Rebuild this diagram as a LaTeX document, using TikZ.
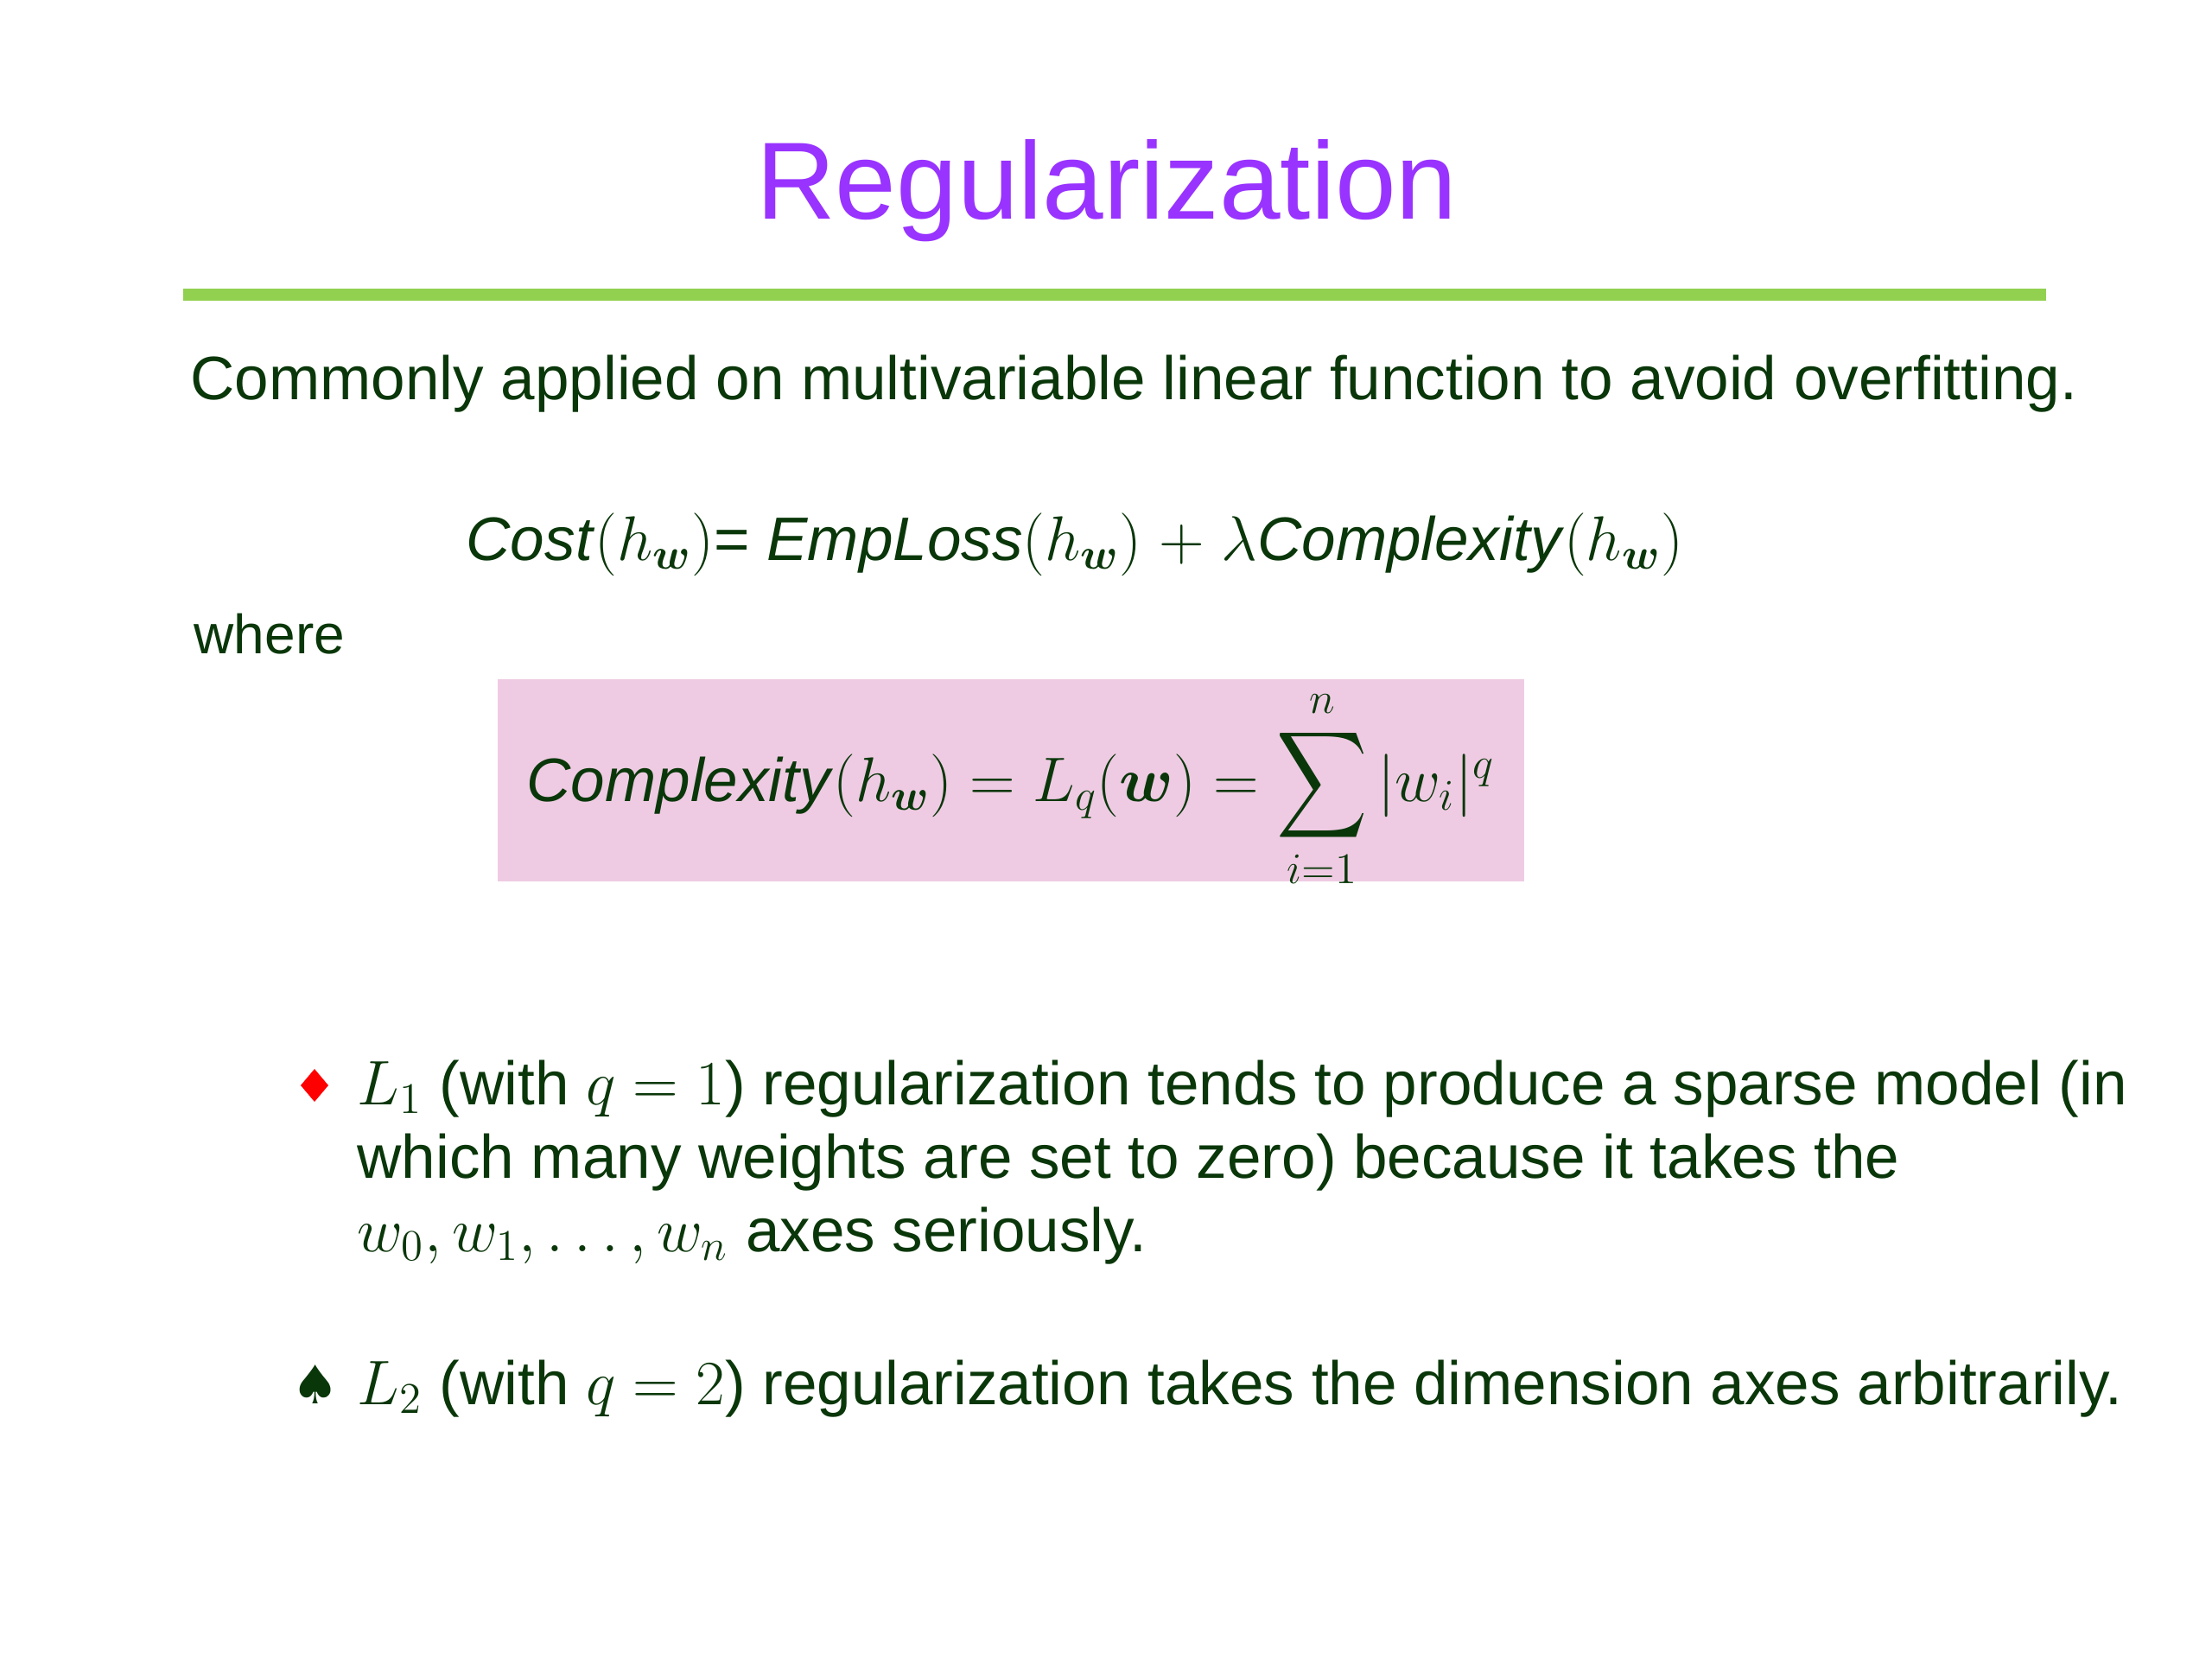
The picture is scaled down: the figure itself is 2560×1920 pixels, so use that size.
\documentclass[tikz,border=0pt]{standalone}
\usepackage{amsmath}
\usepackage[no-math]{fontspec}
\setmainfont{Liberation Sans}
\newfontfamily\symfont{DejaVu Sans}
\definecolor{titlepurple}{RGB}{153,51,255}
\definecolor{rulegreen}{RGB}{146,208,80}
\definecolor{txtgreen}{RGB}{10,55,10}
\definecolor{boxpink}{RGB}{239,203,227}
\definecolor{bulletred}{RGB}{255,0,0}
\newcommand{\bigsum}{\mathop{\vcenter{\hbox{\scalebox{1}[1.18]{$\displaystyle\sum$}}}}\limits}
\tikzset{
  titletext/.style={inner sep=0pt, text=titlepurple, font=\fontsize{36.1}{40}\selectfont},
  bodytext/.style={inner sep=0pt, text=txtgreen, font=\fontsize{20.2}{24.2}\selectfont},
  smalltext/.style={inner sep=0pt, text=txtgreen, font=\fontsize{18.2}{22}\selectfont},
  pinkbox/.style={fill=boxpink, draw=none},
  greenrule/.style={draw=rulegreen, line width=14*0.2845pt},
}
\begin{document}
\begin{tikzpicture}[x=0.01cm,y=-0.01cm]
\useasboundingbox (0,0) rectangle (2560,1920);
\fill[white] (0,0) rectangle (2560,1920);
% title
\node[titletext, anchor=base] (title) at (1281,253) {Regularization};
\coordinate (ruleL) at (212,341);
\coordinate (ruleR) at (2368,341);
\draw[greenrule] (ruleL) -- (ruleR);
% intro
\node[bodytext, anchor=base west] (intro) at (220,462) {Commonly applied on multivariable linear function to avoid overfitting.};
% cost
\node[bodytext, anchor=base west] (cost) at (539,648) {\textit{Cost}$(h_{\boldsymbol{w}})$= \textit{EmpLoss}$(h_{\boldsymbol{w}})$ $+$ $\lambda$\textit{Complexity}$(h_{\boldsymbol{w}})$};
\node[smalltext, anchor=base west] (where) at (224,756) {where};
% box
\fill[pinkbox] (576,786) rectangle (1764,1020);
\node[bodytext, anchor=base west] (cplx) at (609,927) {\textit{Complexity}$(h_{\boldsymbol{w}}) = L_q(\boldsymbol{w}) = \bigsum_{i=1}^{n} |w_i|^q$};
% bullets
\fill[bulletred] (364,1237) -- (380,1256) -- (364,1275) -- (348,1256) -- cycle;
\node[bodytext, anchor=base west] (b1a) at (413,1278) {$L_1$ (with $q=1$) regularization tends to produce a sparse model (in};
\node[bodytext, anchor=base west] (b1b) at (413,1363) {which many weights are set to zero) because it takes the};
\node[bodytext, anchor=base west] (b1c) at (413,1448) {$w_0, w_1, \ldots, w_n$ axes seriously.};
\node[inner sep=0pt, text=txtgreen, font=\symfont\fontsize{17.5}{17.5}\selectfont] (spade) at (365,1602) {♠};
\node[bodytext, anchor=base west] (b2) at (413,1625) {$L_2$ (with $q=2$) regularization takes the dimension axes arbitrarily.};
\end{tikzpicture}
\end{document}
